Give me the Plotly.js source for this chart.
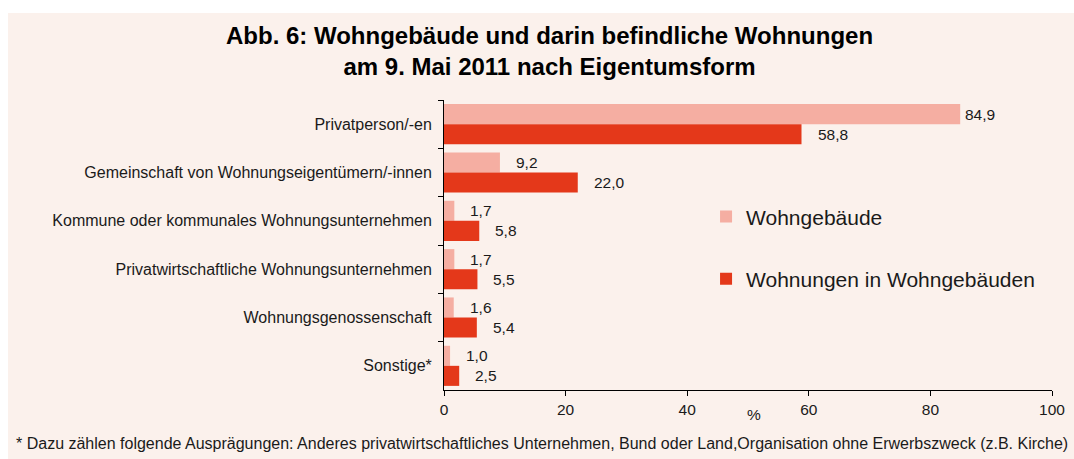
<!DOCTYPE html>
<html>
<head>
<meta charset="utf-8">
<script src="https://cdn.plot.ly/plotly-3.0.1.min.js"></script>
<style>
  html, body { margin: 0; padding: 0; background: #ffffff; }
  #chart { position: absolute; left: 8px; top: 13px; width: 1066px; height: 446px; }
</style>
</head>
<body>
<div id="chart"></div>
<script>
const categories = [
  "Privatperson/-en",
  "Gemeinschaft von Wohnungseigentümern/-innen",
  "Kommune oder kommunales Wohnungsunternehmen",
  "Privatwirtschaftliche Wohnungsunternehmen",
  "Wohnungsgenossenschaft",
  "Sonstige*"
];
const wohngebaeude = [84.9, 9.2, 1.7, 1.7, 1.6, 1.0];
const wohnungen = [58.8, 22.0, 5.8, 5.5, 5.4, 2.5];
const seriesNames = ["Wohngebäude", "Wohnungen in Wohngebäuden"];
const xTicks = [0, 20, 40, 60, 80, 100];

const FONT = "Liberation Sans, Arial, sans-serif";
const TXT = "#1a1a1a";
const fmt = v => v.toFixed(1).replace(".", ",");

const traces = [
  { type: "bar", orientation: "h", name: seriesNames[0], y: categories, x: wohngebaeude,
    marker: { color: "#F5AEA2" }, legendgroup: "a", hoverinfo: "x" },
  { type: "bar", orientation: "h", name: seriesNames[1], y: categories, x: wohnungen,
    marker: { color: "#E4381A" }, legendgroup: "b", hoverinfo: "x" }
];

const annotations = [];
[[wohngebaeude, 10], [wohnungen, -10]].forEach(([arr, ys]) => {
  arr.forEach((v, i) => {
    annotations.push({
      x: v, y: categories[i], xref: "x", yref: "y",
      text: fmt(v), showarrow: false, xanchor: "left", yanchor: "middle",
      xshift: v > 80 ? 3 : 14, yshift: ys,
      font: { family: FONT, size: 15.5, color: TXT }
    });
  });
});
annotations.push({
  xref: "x", yref: "paper", x: 51, y: -0.085, xanchor: "center", yanchor: "middle",
  showarrow: false, text: "%",
  font: { family: FONT, size: 15.5, color: TXT }
});
annotations.push({
  xref: "paper", yref: "paper", x: -0.707, y: -0.186, xanchor: "left", yanchor: "middle",
  showarrow: false,
  text: "* Dazu zählen folgende Ausprägungen: Anderes privatwirtschaftliches Unternehmen, Bund oder Land,Organisation ohne Erwerbszweck (z.B. Kirche)",
  font: { family: FONT, size: 16, color: TXT }
});

const layout = {
  width: 1066, height: 446,
  paper_bgcolor: "#FBF1EC", plot_bgcolor: "rgba(0,0,0,0)",
  margin: { l: 436, r: 22, t: 87, b: 69 },
  separators: ", ",
  title: {
    text: "<b>Abb. 6: Wohngebäude und darin befindliche Wohnungen<br>am 9. Mai 2011 nach Eigentumsform</b>",
    x: 0.508, xanchor: "center", y: 0.93, yanchor: "middle",
    font: { family: "Liberation Sans, Arial, sans-serif", size: 24, color: "#000" }
  },
  barmode: "group", bargap: 0.17, bargroupgap: 0,
  xaxis: {
    range: [0, 100], tickvals: xTicks, ticks: "outside", ticklen: 5, tickcolor: "#000",
    showline: true, linecolor: "#000", linewidth: 1, showgrid: false, zeroline: false,
    tickfont: { family: FONT, size: 15.5, color: TXT }
  },
  yaxis: {
    autorange: "reversed", type: "category", tickson: "boundaries",
    ticks: "outside", ticklen: 5, tickcolor: "#000",
    showline: true, linecolor: "#000", linewidth: 1, showgrid: false, zeroline: false,
    ticklabelstandoff: 8,
    tickfont: { family: FONT, size: 16, color: TXT }
  },
  legend: {
    x: 0.431, xanchor: "left", y: 0.49, yanchor: "middle",
    bgcolor: "rgba(0,0,0,0)", tracegroupgap: 32, traceorder: "grouped",
    font: { family: FONT, size: 21, color: TXT }
  },
  showlegend: true,
  annotations: annotations
};

Plotly.newPlot("chart", traces, layout, { displayModeBar: false, staticPlot: true });
</script>
</body>
</html>
